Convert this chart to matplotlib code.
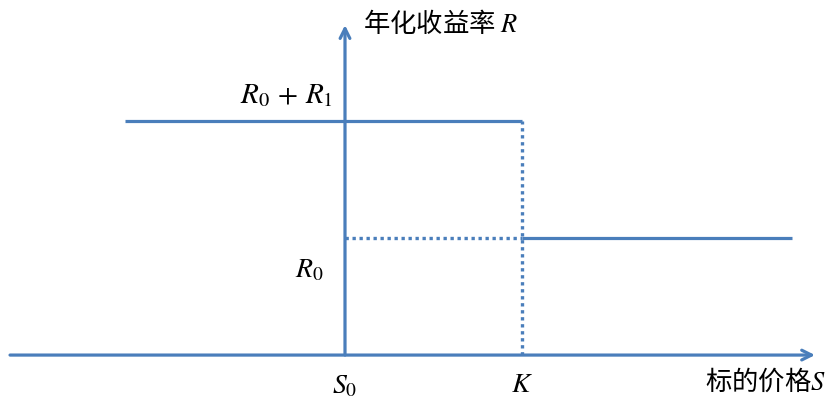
import matplotlib.pyplot as plt

plt.rcParams['font.family'] = ['Noto Sans CJK SC', 'DejaVu Sans']
plt.rcParams['mathtext.fontset'] = 'stix'

# model values (S in price units, R in %)
S0 = 100.0
K = 130.0
R0 = 4.0
R1 = 4.0
S_left = 62.7     # where the upper line starts
S_right = 175.8   # where the lower line ends
x_axis_span = [43.2, 179.7]
y_axis_top = 11.3

blue = '#4a7ebb'

fig = plt.figure(figsize=(8.28, 4.05), dpi=100)
ax = fig.add_axes([0, 0, 1, 1])
ax.set_xlim(41.5, 181.9)
ax.set_ylim(-1.71, 12.16)
ax.axis('off')

arrow = dict(arrowstyle='->, head_length=0.7, head_width=0.35', color=blue, lw=2.3,
             shrinkA=0, shrinkB=0)
# axes
ax.annotate('', xy=(x_axis_span[1], 0), xytext=(x_axis_span[0], 0), arrowprops=arrow)
ax.annotate('', xy=(S0, y_axis_top), xytext=(S0, 0), arrowprops=arrow)

# payoff steps
ax.plot([S_left, K], [R0 + R1, R0 + R1], color=blue, lw=2.3, solid_capstyle='butt')
ax.plot([K, S_right], [R0, R0], color=blue, lw=2.3, solid_capstyle='butt')
ax.plot([K, K], [0, R0 + R1], color=blue, lw=2.4, ls=(0, (1, 1.1)))
ax.plot([S0, K], [R0, R0], color=blue, lw=2.4, ls=(0, (1, 1.1)))

# labels
ax.text(S0 + 3.0, 11.35, '年化收益率 $R$', fontsize=19, va='center', ha='left')
ax.text(S0 - 2.0, 8.9, r'$R_0\,+\,R_1$', fontsize=21, va='center', ha='right')
ax.text(S0 - 3.6, 2.95, '$R_0$', fontsize=20, va='center', ha='right')
ax.text(S0, -1.05, '$S_0$', fontsize=20, va='center', ha='center')
ax.text(K, -0.98, '$K$', fontsize=20, va='center', ha='center')
ax.text(181.6, -0.92, '标的价格$S$', fontsize=19, va='center', ha='right')

fig.savefig('out.png', dpi=100)
